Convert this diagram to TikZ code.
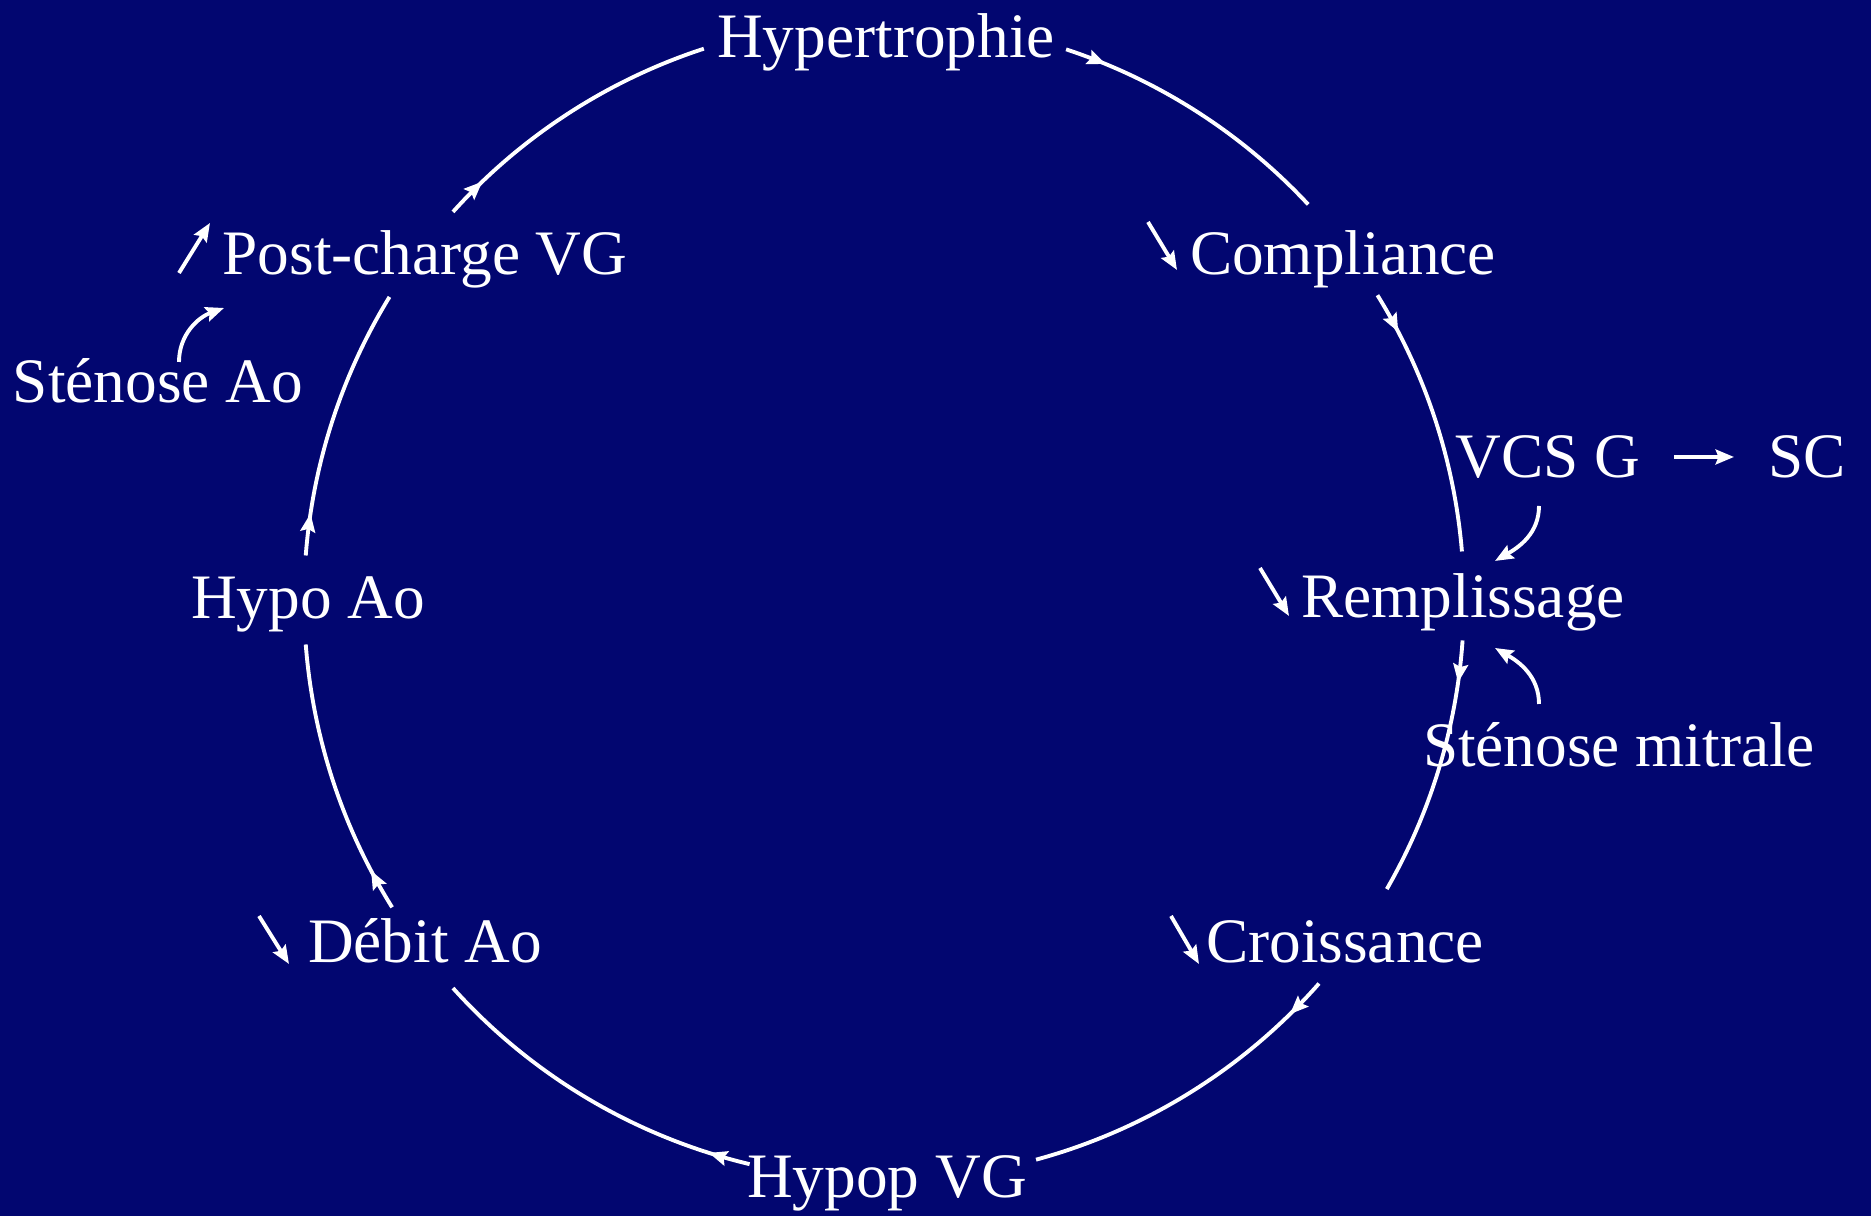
\documentclass[tikz,border=0pt]{standalone}
\usepackage{fontspec}
\setmainfont{Liberation Serif}
\usetikzlibrary{arrows.meta,decorations.markings,calc}
\definecolor{bgnavy}{RGB}{2,6,112}
\begin{document}
\begin{tikzpicture}[x=0.01cm,y=0.01cm,
  lbl/.style={text=white,font=\fontsize{18}{21}\selectfont,inner sep=0pt,anchor=base},
  tipA/.tip={Stealth[length=5.2pt,width=4.2pt,inset=0.8pt]},
  link/.style={draw=white,line width=1.1pt},
  cyc/.style={link,postaction={decorate},decoration={markings,mark=at position 12pt with {\arrow[white]{tipA}}}},
  ptr/.style={link,-{tipA}}]
\fill[bgnavy] (0,0) rectangle (1871,1216);
\useasboundingbox (0,0) rectangle (1871,1216);

% labels
\node[lbl] (hyper) at (886,1158) {Hypertrophie};
\node[lbl] (post)  at (425,941) {Post-charge VG};
\node[lbl] (compl) at (1343,941) {Compliance};
\node[lbl] (stao)  at (158,813) {Sténose Ao};
\node[lbl] (vcs)   at (1548,738) {VCS G};
\node[lbl] (sc)    at (1807,738) {SC};
\node[lbl] (rempl) at (1463,598) {Remplissage};
\node[lbl] (stmi)  at (1619,449) {Sténose mitrale};
\node[lbl] (hypoao) at (308,597) {Hypo Ao};
\node[lbl] (debit) at (425,253) {Débit Ao};
\node[lbl] (crois) at (1345,253) {Croissance};
\node[lbl] (hypop) at (887,18) {Hypop VG};

% cycle arcs
\coordinate (C) at (884,616);
\coordinate (a1) at ($(C)+(71.7:580)$);
\coordinate (a2) at ($(C)+(31.7:580)$);
\coordinate (a3) at ($(C)+(-4:580)$);
\coordinate (a4) at ($(C)+(-41.4:580)$);
\coordinate (a5) at ($(C)+(-103.4:580)$);
\coordinate (a6) at ($(C)+(-148:580)$);
\coordinate (a7) at ($(C)+(175.6:580)$);
\coordinate (a8) at ($(C)+(138:580)$);
\draw[cyc] (a1) arc[start angle=71.7,end angle=43,radius=580];
\draw[cyc] (a2) arc[start angle=31.7,end angle=4.8,radius=580];
\draw[cyc] (a3) arc[start angle=-4,end angle=-29.9,radius=580];
\draw[cyc] (a4) arc[start angle=-41.4,end angle=-74.8,radius=580];
\draw[cyc] (a5) arc[start angle=-103.4,end angle=-138,radius=580];
\draw[cyc] (a6) arc[start angle=-148,end angle=-175.6,radius=580];
\draw[cyc] (a7) arc[start angle=175.6,end angle=148.5,radius=580];
\draw[cyc] (a8) arc[start angle=138,end angle=108.1,radius=580];

% small up/down arrows
\coordinate (u1s) at (179,943);  \coordinate (u1e) at (210,993);
\coordinate (d1s) at (1148,994); \coordinate (d1e) at (1177,946);
\coordinate (d2s) at (1260,648); \coordinate (d2e) at (1289,600);
\coordinate (d3s) at (259,300);  \coordinate (d3e) at (289,252);
\coordinate (d4s) at (1171,300); \coordinate (d4e) at (1199,252);
\draw[ptr] (u1s) -- (u1e);
\draw[ptr] (d1s) -- (d1e);
\draw[ptr] (d2s) -- (d2e);
\draw[ptr] (d3s) -- (d3e);
\draw[ptr] (d4s) -- (d4e);

% VCS G -> SC
\coordinate (vs) at (1674,759); \coordinate (ve) at (1734,759);
\draw[ptr] (vs) -- (ve);

% curved arrows
\coordinate (sa1) at (179,854); \coordinate (sa2) at (224,908);
\draw[ptr] (sa1) to[out=90,in=200] (sa2);
\coordinate (vc1) at (1539,710); \coordinate (vc2) at (1495,655);
\draw[ptr] (vc1) to[out=-90,in=30] (vc2);
\coordinate (sm1) at (1539,512); \coordinate (sm2) at (1495,568);
\draw[ptr] (sm1) to[out=90,in=-30] (sm2);
\end{tikzpicture}
\end{document}
